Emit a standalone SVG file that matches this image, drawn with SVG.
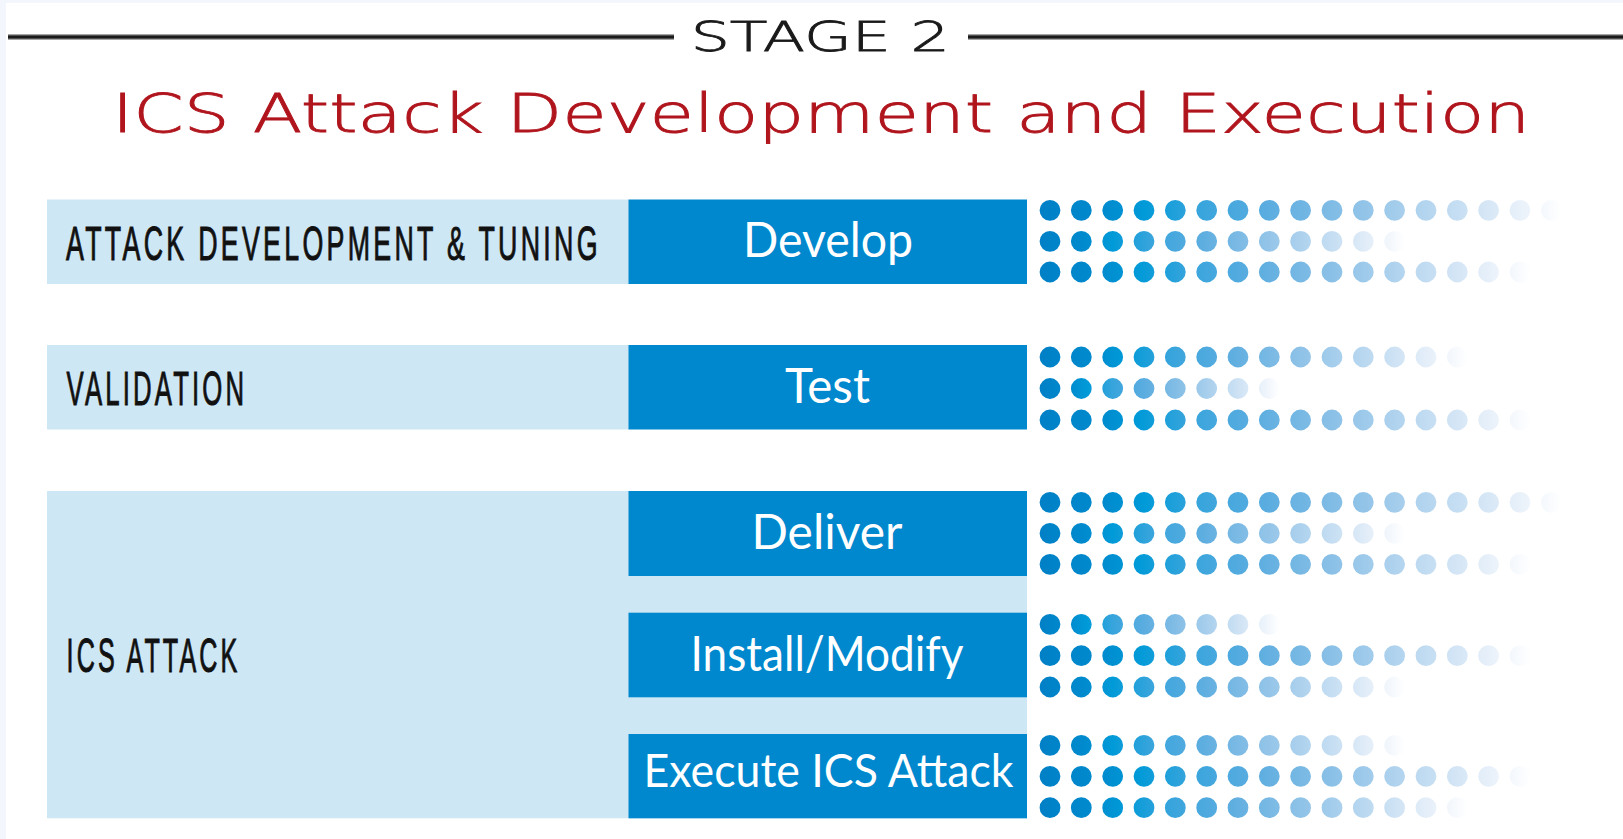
<svg xmlns="http://www.w3.org/2000/svg" width="1623" height="839" viewBox="0 0 1623 839">
<style>
.band{fill:#cde7f5}
.box{fill:#0088ce}
.lbl{font-family:"Liberation Sans",Arial,sans-serif;font-size:49px;fill:#111;letter-spacing:6px;stroke:#111;stroke-width:1px}
.btx{font-family:Lato,"Open Sans",sans-serif;font-size:48px;fill:#fff}
.ttl{font-family:"DejaVu Sans",sans-serif;font-weight:200;font-size:52.7px;fill:#b0151d;stroke:#b0151d;stroke-width:0.8px}
.stg{font-family:"DejaVu Sans",sans-serif;font-weight:200;font-size:41px;fill:#1a1a1a;stroke:#1a1a1a;stroke-width:0.8px}
</style>
<defs>
<linearGradient id="fade" x1="0" y1="0" x2="1" y2="0">
<stop offset="0" stop-color="#0080c6"/>
<stop offset="0.12" stop-color="#008acd"/>
<stop offset="0.2" stop-color="#009ad8"/>
<stop offset="0.3" stop-color="#36a4dc"/>
<stop offset="0.44" stop-color="#5cade0"/>
<stop offset="0.6" stop-color="#8cc1e7"/>
<stop offset="0.74" stop-color="#b4d5ef"/>
<stop offset="0.86" stop-color="#d7e7f6"/>
<stop offset="0.94" stop-color="#eef4fb"/>
<stop offset="1" stop-color="#ffffff"/>
</linearGradient>
<linearGradient id="rule" x1="0" y1="0" x2="0" y2="1">
<stop offset="0" stop-color="#d0d0d0"/>
<stop offset="0.35" stop-color="#1a1a1a"/>
<stop offset="0.65" stop-color="#1a1a1a"/>
<stop offset="1" stop-color="#d0d0d0"/>
</linearGradient>
<path id="d17" fill="url(#fade)" d="M1039.6 0a10.4 10.4 0 1 0 20.8 0a10.4 10.4 0 1 0-20.8 0zM1070.9 0a10.4 10.4 0 1 0 20.8 0a10.4 10.4 0 1 0-20.8 0zM1102.3 0a10.4 10.4 0 1 0 20.8 0a10.4 10.4 0 1 0-20.8 0zM1133.6 0a10.4 10.4 0 1 0 20.8 0a10.4 10.4 0 1 0-20.8 0zM1164.9 0a10.4 10.4 0 1 0 20.8 0a10.4 10.4 0 1 0-20.8 0zM1196.3 0a10.4 10.4 0 1 0 20.8 0a10.4 10.4 0 1 0-20.8 0zM1227.6 0a10.4 10.4 0 1 0 20.8 0a10.4 10.4 0 1 0-20.8 0zM1258.9 0a10.4 10.4 0 1 0 20.8 0a10.4 10.4 0 1 0-20.8 0zM1290.2 0a10.4 10.4 0 1 0 20.8 0a10.4 10.4 0 1 0-20.8 0zM1321.6 0a10.4 10.4 0 1 0 20.8 0a10.4 10.4 0 1 0-20.8 0zM1352.9 0a10.4 10.4 0 1 0 20.8 0a10.4 10.4 0 1 0-20.8 0zM1384.2 0a10.4 10.4 0 1 0 20.8 0a10.4 10.4 0 1 0-20.8 0zM1415.6 0a10.4 10.4 0 1 0 20.8 0a10.4 10.4 0 1 0-20.8 0zM1446.9 0a10.4 10.4 0 1 0 20.8 0a10.4 10.4 0 1 0-20.8 0zM1478.2 0a10.4 10.4 0 1 0 20.8 0a10.4 10.4 0 1 0-20.8 0zM1509.6 0a10.4 10.4 0 1 0 20.8 0a10.4 10.4 0 1 0-20.8 0zM1540.9 0a10.4 10.4 0 1 0 20.8 0a10.4 10.4 0 1 0-20.8 0z"/>
<path id="d16" fill="url(#fade)" d="M1039.6 0a10.4 10.4 0 1 0 20.8 0a10.4 10.4 0 1 0-20.8 0zM1070.9 0a10.4 10.4 0 1 0 20.8 0a10.4 10.4 0 1 0-20.8 0zM1102.3 0a10.4 10.4 0 1 0 20.8 0a10.4 10.4 0 1 0-20.8 0zM1133.6 0a10.4 10.4 0 1 0 20.8 0a10.4 10.4 0 1 0-20.8 0zM1164.9 0a10.4 10.4 0 1 0 20.8 0a10.4 10.4 0 1 0-20.8 0zM1196.3 0a10.4 10.4 0 1 0 20.8 0a10.4 10.4 0 1 0-20.8 0zM1227.6 0a10.4 10.4 0 1 0 20.8 0a10.4 10.4 0 1 0-20.8 0zM1258.9 0a10.4 10.4 0 1 0 20.8 0a10.4 10.4 0 1 0-20.8 0zM1290.2 0a10.4 10.4 0 1 0 20.8 0a10.4 10.4 0 1 0-20.8 0zM1321.6 0a10.4 10.4 0 1 0 20.8 0a10.4 10.4 0 1 0-20.8 0zM1352.9 0a10.4 10.4 0 1 0 20.8 0a10.4 10.4 0 1 0-20.8 0zM1384.2 0a10.4 10.4 0 1 0 20.8 0a10.4 10.4 0 1 0-20.8 0zM1415.6 0a10.4 10.4 0 1 0 20.8 0a10.4 10.4 0 1 0-20.8 0zM1446.9 0a10.4 10.4 0 1 0 20.8 0a10.4 10.4 0 1 0-20.8 0zM1478.2 0a10.4 10.4 0 1 0 20.8 0a10.4 10.4 0 1 0-20.8 0zM1509.6 0a10.4 10.4 0 1 0 20.8 0a10.4 10.4 0 1 0-20.8 0z"/>
<path id="d14" fill="url(#fade)" d="M1039.6 0a10.4 10.4 0 1 0 20.8 0a10.4 10.4 0 1 0-20.8 0zM1070.9 0a10.4 10.4 0 1 0 20.8 0a10.4 10.4 0 1 0-20.8 0zM1102.3 0a10.4 10.4 0 1 0 20.8 0a10.4 10.4 0 1 0-20.8 0zM1133.6 0a10.4 10.4 0 1 0 20.8 0a10.4 10.4 0 1 0-20.8 0zM1164.9 0a10.4 10.4 0 1 0 20.8 0a10.4 10.4 0 1 0-20.8 0zM1196.3 0a10.4 10.4 0 1 0 20.8 0a10.4 10.4 0 1 0-20.8 0zM1227.6 0a10.4 10.4 0 1 0 20.8 0a10.4 10.4 0 1 0-20.8 0zM1258.9 0a10.4 10.4 0 1 0 20.8 0a10.4 10.4 0 1 0-20.8 0zM1290.2 0a10.4 10.4 0 1 0 20.8 0a10.4 10.4 0 1 0-20.8 0zM1321.6 0a10.4 10.4 0 1 0 20.8 0a10.4 10.4 0 1 0-20.8 0zM1352.9 0a10.4 10.4 0 1 0 20.8 0a10.4 10.4 0 1 0-20.8 0zM1384.2 0a10.4 10.4 0 1 0 20.8 0a10.4 10.4 0 1 0-20.8 0zM1415.6 0a10.4 10.4 0 1 0 20.8 0a10.4 10.4 0 1 0-20.8 0zM1446.9 0a10.4 10.4 0 1 0 20.8 0a10.4 10.4 0 1 0-20.8 0z"/>
<path id="d12" fill="url(#fade)" d="M1039.6 0a10.4 10.4 0 1 0 20.8 0a10.4 10.4 0 1 0-20.8 0zM1070.9 0a10.4 10.4 0 1 0 20.8 0a10.4 10.4 0 1 0-20.8 0zM1102.3 0a10.4 10.4 0 1 0 20.8 0a10.4 10.4 0 1 0-20.8 0zM1133.6 0a10.4 10.4 0 1 0 20.8 0a10.4 10.4 0 1 0-20.8 0zM1164.9 0a10.4 10.4 0 1 0 20.8 0a10.4 10.4 0 1 0-20.8 0zM1196.3 0a10.4 10.4 0 1 0 20.8 0a10.4 10.4 0 1 0-20.8 0zM1227.6 0a10.4 10.4 0 1 0 20.8 0a10.4 10.4 0 1 0-20.8 0zM1258.9 0a10.4 10.4 0 1 0 20.8 0a10.4 10.4 0 1 0-20.8 0zM1290.2 0a10.4 10.4 0 1 0 20.8 0a10.4 10.4 0 1 0-20.8 0zM1321.6 0a10.4 10.4 0 1 0 20.8 0a10.4 10.4 0 1 0-20.8 0zM1352.9 0a10.4 10.4 0 1 0 20.8 0a10.4 10.4 0 1 0-20.8 0zM1384.2 0a10.4 10.4 0 1 0 20.8 0a10.4 10.4 0 1 0-20.8 0z"/>
<path id="d8" fill="url(#fade)" d="M1039.6 0a10.4 10.4 0 1 0 20.8 0a10.4 10.4 0 1 0-20.8 0zM1070.9 0a10.4 10.4 0 1 0 20.8 0a10.4 10.4 0 1 0-20.8 0zM1102.3 0a10.4 10.4 0 1 0 20.8 0a10.4 10.4 0 1 0-20.8 0zM1133.6 0a10.4 10.4 0 1 0 20.8 0a10.4 10.4 0 1 0-20.8 0zM1164.9 0a10.4 10.4 0 1 0 20.8 0a10.4 10.4 0 1 0-20.8 0zM1196.3 0a10.4 10.4 0 1 0 20.8 0a10.4 10.4 0 1 0-20.8 0zM1227.6 0a10.4 10.4 0 1 0 20.8 0a10.4 10.4 0 1 0-20.8 0zM1258.9 0a10.4 10.4 0 1 0 20.8 0a10.4 10.4 0 1 0-20.8 0z"/>
</defs>

<rect width="1623" height="839" fill="#f3f6fc"/>
<rect x="6" y="3" width="1617" height="836" fill="#ffffff"/>

<g id="header">
<rect x="8" y="34" width="666" height="6" fill="url(#rule)"/>
<rect x="968" y="34" width="655" height="6" fill="url(#rule)"/>
<text class="stg" x="690.7" y="50.7" textLength="259" lengthAdjust="spacingAndGlyphs">STAGE 2</text>
<text class="ttl" x="112" y="131.5" textLength="1418" lengthAdjust="spacingAndGlyphs">ICS Attack Development and Execution</text>
</g>

<g id="phase-attack-development">
<rect class="band" x="47" y="199.5" width="582" height="84.5"/>
<text class="lbl" transform="translate(66 260) scale(0.547 1)">ATTACK DEVELOPMENT &amp; TUNING</text>
</g>
<g id="phase-validation">
<rect class="band" x="47" y="345" width="582" height="84.5"/>
<text class="lbl" transform="translate(66.6 404.8) scale(0.525 1)">VALIDATION</text>
</g>
<g id="phase-ics-attack">
<rect class="band" x="47" y="491" width="980" height="327.3"/>
<text class="lbl" transform="translate(66.6 671.7) scale(0.513 1)">ICS ATTACK</text>
</g>

<g id="step-develop">
<rect class="box" x="628.5" y="199.5" width="398.5" height="84.5"/>
<text class="btx" x="743" y="256.7" textLength="170" lengthAdjust="spacingAndGlyphs">Develop</text>
</g>
<g id="step-test">
<rect class="box" x="628.5" y="345" width="398.5" height="84.5"/>
<text class="btx" x="785" y="402.7" textLength="85" lengthAdjust="spacingAndGlyphs">Test</text>
</g>
<g id="step-deliver">
<rect class="box" x="628.5" y="491" width="398.5" height="85"/>
<text class="btx" x="751.5" y="549" textLength="151" lengthAdjust="spacingAndGlyphs">Deliver</text>
</g>
<g id="step-install">
<rect class="box" x="628.5" y="612.7" width="398.5" height="84.6"/>
<text class="btx" x="690.5" y="671" textLength="273" lengthAdjust="spacingAndGlyphs">Install/Modify</text>
</g>
<g id="step-execute">
<rect class="box" x="628.5" y="734" width="398.5" height="84.3"/>
<text class="btx" x="643.5" y="786.7" textLength="370" lengthAdjust="spacingAndGlyphs" style="font-size:46px">Execute ICS Attack</text>
</g>

<g id="connectors">
<use href="#d17" y="210.3"/>
<use href="#d12" y="241.3"/>
<use href="#d16" y="272"/>
<use href="#d14" y="357"/>
<use href="#d8" y="388.5"/>
<use href="#d16" y="420"/>
<use href="#d17" y="502.3"/>
<use href="#d12" y="533.3"/>
<use href="#d16" y="564.3"/>
<use href="#d8" y="624.3"/>
<use href="#d16" y="655.7"/>
<use href="#d12" y="687"/>
<use href="#d12" y="745.3"/>
<use href="#d16" y="776.3"/>
<use href="#d14" y="807.7"/>
</g>
</svg>
